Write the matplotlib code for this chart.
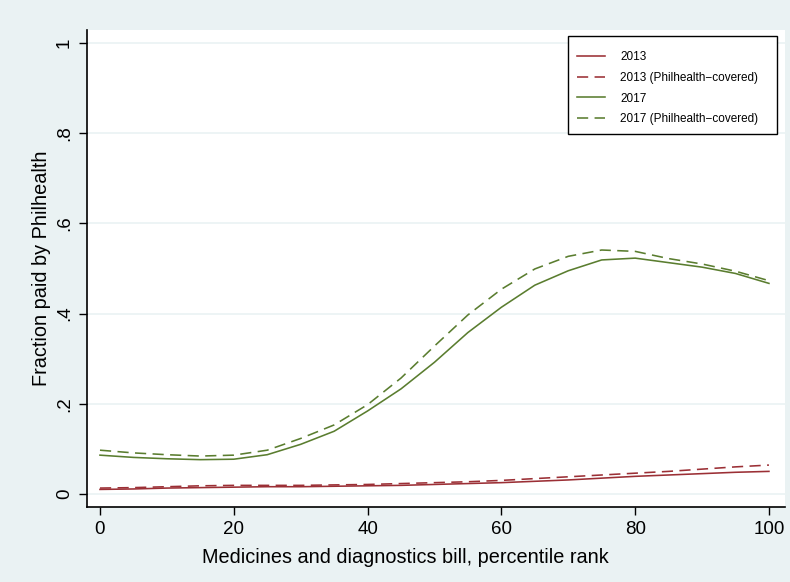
import matplotlib
matplotlib.use("Agg")
import matplotlib.pyplot as plt
from matplotlib.patches import Rectangle

plt.rcParams["font.family"] = ["Liberation Sans", "DejaVu Sans"]

pct = [0, 5, 10, 15, 20, 25, 30, 35, 40, 45, 50,
       55, 60, 65, 70, 75, 80, 85, 90, 95, 100]

y2013 = [0.010, 0.011, 0.013, 0.014, 0.015, 0.016, 0.016, 0.017, 0.018, 0.019, 0.021,
         0.023, 0.025, 0.028, 0.031, 0.035, 0.039, 0.042, 0.045, 0.048, 0.050]
y2013_cov = [0.013, 0.014, 0.016, 0.018, 0.019, 0.019, 0.019, 0.020, 0.021, 0.023, 0.025,
             0.027, 0.030, 0.034, 0.038, 0.042, 0.046, 0.050, 0.055, 0.060, 0.064]
y2017 = [0.086, 0.081, 0.078, 0.076, 0.077, 0.087, 0.110, 0.139, 0.184, 0.233, 0.292,
         0.358, 0.414, 0.463, 0.495, 0.519, 0.523, 0.513, 0.503, 0.489, 0.467]
y2017_cov = [0.097, 0.091, 0.087, 0.084, 0.086, 0.097, 0.123, 0.153, 0.198, 0.257, 0.328,
             0.397, 0.454, 0.499, 0.527, 0.541, 0.538, 0.522, 0.510, 0.494, 0.473]

xticks = [0, 20, 40, 60, 80, 100]
yticks = [0, 0.2, 0.4, 0.6, 0.8, 1.0]
ylabels = ["0", ".2", ".4", ".6", ".8", "1"]

red = "#9B2F35"
green = "#5A7D2F"
bg = "#EAF2F3"

W, H = 790, 582
fig = plt.figure(figsize=(W / 100, H / 100), dpi=100, facecolor=bg)
ax = fig.add_axes([87 / W, 1 - 507 / H, (785 - 87) / W, (507 - 30) / H])
ax.set_facecolor("white")

ax.plot(pct, y2013, color=red, lw=1.15, label="2013")
ax.plot(pct, y2013_cov, color=red, lw=1.15, dashes=(7, 4), label="2013 (Philhealth\u2212covered)")
ax.plot(pct, y2017, color=green, lw=1.15, label="2017")
ax.plot(pct, y2017_cov, color=green, lw=1.15, dashes=(7, 4), label="2017 (Philhealth\u2212covered)")

ax.set_xlim(-1.94, 102.4)
ax.set_ylim(-0.029, 1.029)
ax.set_xticks(xticks)
ax.set_yticks(yticks)
ax.set_yticklabels(ylabels, rotation=90, va="center")
ax.tick_params(axis="both", direction="out", length=6, width=1, labelsize=13.5, colors="black", pad=4)
ax.grid(axis="y", color=bg, lw=1.2)
ax.set_axisbelow(True)
for s in ["top", "right"]:
    ax.spines[s].set_visible(False)
for s in ["left", "bottom"]:
    ax.spines[s].set_linewidth(1.2)

ax.set_xlabel("Medicines and diagnostics bill, percentile rank", fontsize=14.3)
ax.xaxis.set_label_coords((405 - 87) / 698, -0.085)
ax.set_ylabel("Fraction paid by Philhealth", fontsize=14.3, labelpad=4)

# legend box (Stata style, square frame)
box = Rectangle((568 / W, 1 - 134 / H), (777 - 568) / W, (134 - 36) / H,
                transform=fig.transFigure, facecolor="white", edgecolor="black",
                lw=1.0, zorder=4, clip_on=False)
ax.add_patch(box)
leg = ax.legend(loc="upper left", bbox_to_anchor=(577 / W, 1 - 51.5 / H), bbox_transform=fig.transFigure,
                frameon=False, fontsize=8.5, handlelength=2.37, handletextpad=1.27,
                labelspacing=0.72, borderpad=0, borderaxespad=0)
leg.set_zorder(6)

plt.savefig("out.png", dpi=100, facecolor=bg)
